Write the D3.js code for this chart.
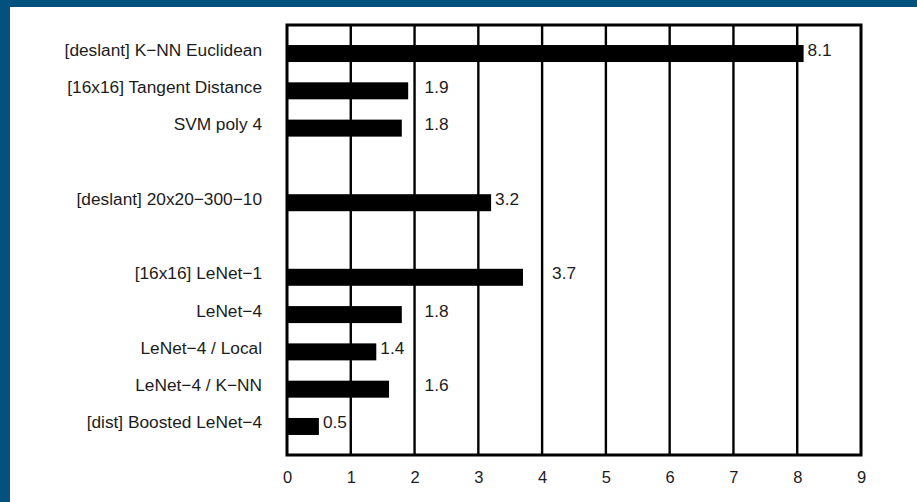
<!DOCTYPE html>
<html>
<head>
<meta charset="utf-8">
<script src="https://cdn.jsdelivr.net/npm/d3@7/dist/d3.min.js"></script>
<style>
  html, body { margin: 0; padding: 0; background: #ffffff; }
  svg { display: block; }
  text { font-family: "Liberation Sans", Arial, Helvetica, sans-serif; fill: #1c1c1c; }
</style>
</head>
<body>
<svg id="chart" width="917" height="502"></svg>
<script>
// Test error rate (%) of classifiers
const categories = [
  "[deslant] K\u2212NN Euclidean",
  "[16x16] Tangent Distance",
  "SVM poly 4",
  "[deslant] 20x20\u2212300\u221210",
  "[16x16] LeNet\u22121",
  "LeNet\u22124",
  "LeNet\u22124 / Local",
  "LeNet\u22124 / K\u2212NN",
  "[dist] Boosted LeNet\u22124"
];
const errorRates = [8.1, 1.9, 1.8, 3.2, 3.7, 1.8, 1.4, 1.6, 0.5];
// group of each classifier; a blank row separates consecutive groups
const groupIds = [0, 0, 0, 1, 2, 2, 2, 2, 2];
const xTicks = [0, 1, 2, 3, 4, 5, 6, 7, 8, 9];

const svg = d3.select("#chart");
const W = 917, H = 502;

// page frame: white sheet on a blue backdrop
svg.append("rect").attr("width", W).attr("height", H).attr("fill", "#02517f");
svg.append("rect").attr("x", 10).attr("y", 7).attr("width", W - 10).attr("height", H - 7).attr("fill", "#ffffff");

const plot = { left: 287, right: 861, top: 25, bottom: 455 };

const x = d3.scaleLinear().domain([0, 9]).range([plot.left, plot.right]);

const rows = categories.map((c, i) => ({ name: c, value: errorRates[i], slot: i + groupIds[i] }));
const nSlots = d3.max(rows, d => d.slot) + 1;
const y = d3.scalePoint().domain(d3.range(nSlots)).range([plot.top, plot.bottom]).padding(0.765);
const barH = 17;

// vertical grid lines
const grid = svg.append("g");
grid.selectAll("line").data(xTicks.filter(t => t > 0 && t < 9)).join("line")
  .attr("x1", d => x(d)).attr("x2", d => x(d))
  .attr("y1", plot.top).attr("y2", plot.bottom)
  .attr("stroke", "#000").attr("stroke-width", 2.4);

// bars
svg.append("g").selectAll("rect").data(rows).join("rect")
  .attr("x", x(0))
  .attr("y", d => y(d.slot) - barH / 2)
  .attr("width", d => x(d.value) - x(0))
  .attr("height", barH)
  .attr("fill", "#000");

// frame
svg.append("rect")
  .attr("x", plot.left).attr("y", plot.top)
  .attr("width", plot.right - plot.left).attr("height", plot.bottom - plot.top)
  .attr("fill", "none").attr("stroke", "#000").attr("stroke-width", 3);

// x axis tick labels
const xAxis = d3.axisBottom(x).tickValues(xTicks).tickFormat(d3.format("d")).tickSize(0).tickPadding(0);
const ax = svg.append("g").attr("transform", `translate(0,${plot.bottom})`).call(xAxis);
ax.select(".domain").remove();
ax.selectAll("text")
  .attr("dy", null).attr("y", 28)
  .attr("font-size", 16.5)
  .attr("font-family", "Liberation Sans, Arial, sans-serif")
  .attr("fill", "#1c1c1c");

// category labels
svg.append("g").selectAll("text").data(rows).join("text")
  .attr("x", 262)
  .attr("y", d => y(d.slot) + 2)
  .attr("text-anchor", "end")
  .attr("font-size", 17.3)
  .text(d => d.name);

// value labels: just past the bar end, or past the next grid line when it would collide
const vals = svg.append("g").selectAll("text").data(rows).join("text")
  .attr("y", d => y(d.slot) + 2)
  .attr("font-size", 17.3)
  .text(d => d.value.toFixed(1));
vals.each(function (d) {
  const w = this.getComputedTextLength();
  const end = x(d.value);
  const nextGrid = x(Math.floor(d.value) + 1);
  const px = (end + 4 + w + 3 <= nextGrid) ? end + 4 : nextGrid + 10;
  d3.select(this).attr("x", px);
});
</script>
</body>
</html>
